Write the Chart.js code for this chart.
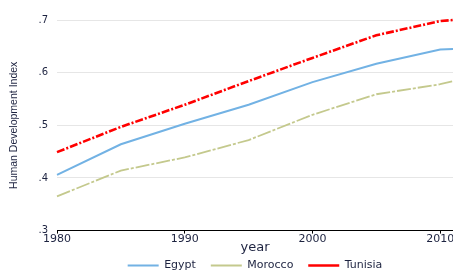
<!DOCTYPE html>
<html>
<head>
<meta charset="utf-8">
<script src="https://cdn.jsdelivr.net/npm/chart.js@4"></script>
<style>
  html, body { margin: 0; padding: 0; background: #fff; overflow: hidden; }
  #wrap { width: 453px; height: 273px; overflow: hidden; }
</style>
</head>
<body>
<div id="wrap"><canvas id="hdiChart" width="470" height="281"></canvas></div>
<script>
// values
const years = [1980, 1985, 1990, 1995, 2000, 2005, 2010, 2011];
const egypt = [0.406, 0.464, 0.503, 0.539, 0.582, 0.617, 0.644, 0.645];
const morocco = [0.365, 0.414, 0.439, 0.472, 0.520, 0.559, 0.578, 0.584];
const tunisia = [0.449, 0.497, 0.539, 0.584, 0.628, 0.671, 0.698, 0.700];
const xTicks = [1980, 1990, 2000, 2010];
const yTicks = [0.3, 0.4, 0.5, 0.6, 0.7];
const yTickLabels = ['.3', '.4', '.5', '.6', '.7'];

const pts = arr => years.map((y, i) => ({ x: y, y: arr[i] }));
const textColor = '#1d2340';

const ctx = document.getElementById('hdiChart').getContext('2d');

const hdiChart = new Chart(ctx, {
    type: 'line',
    data: {
        datasets: [
            { label: 'Egypt', data: pts(egypt), borderColor: '#72b2e4', backgroundColor: '#72b2e4', borderWidth: 2 },
            { label: 'Morocco', data: pts(morocco), borderColor: '#c4c98d', backgroundColor: '#c4c98d', borderWidth: 1.8, borderDash: [14, 2, 3, 2] },
            { label: 'Tunisia', data: pts(tunisia), borderColor: '#ff0000', backgroundColor: '#ff0000', borderWidth: 2.6, borderDash: [8, 2, 2, 2] }
        ]
    },
    options: {
        responsive: false,
        animation: false,
        clip: false,
        elements: { point: { radius: 0 }, line: { tension: 0 } },
        layout: { padding: { top: 20, right: 17, left: 0, bottom: 0 } },
        scales: {
            x: {
                type: 'linear',
                min: 1980,
                max: 2011,
                afterBuildTicks: s => { s.ticks = xTicks.map(v => ({ value: v })); },
                afterFit: s => { s.height = 25; },
                ticks: {
                    callback: v => String(v),
                    color: textColor,
                    font: { family: 'DejaVu Sans', size: 11 },
                    padding: -1,
                    maxRotation: 0
                },
                grid: { drawOnChartArea: false, drawTicks: true, tickLength: 3, color: '#000' },
                border: { display: true, color: '#000', width: 1 },
                title: {
                    display: true,
                    text: 'year',
                    color: textColor,
                    font: { family: 'DejaVu Sans', size: 13 },
                    padding: { top: 0, bottom: 0 }
                }
            },
            y: {
                min: 0.3,
                max: 0.7,
                afterBuildTicks: s => { s.ticks = yTicks.map(v => ({ value: v })); },
                afterFit: s => { s.width = 57; },
                ticks: {
                    callback: (v, i) => yTickLabels[i],
                    color: textColor,
                    font: { family: 'DejaVu Sans', size: 10 },
                    padding: 9
                },
                grid: { color: '#e6e6e6', lineWidth: 1, drawTicks: false },
                border: { display: false },
                title: {
                    display: true,
                    text: 'Human Development Index',
                    color: textColor,
                    font: { family: 'Liberation Sans', size: 10.5 },
                    padding: { top: 8, bottom: 0 }
                }
            }
        },
        plugins: {
            tooltip: { enabled: false },
            legend: {
                position: 'bottom',
                fullSize: false,
                labels: {
                    usePointStyle: true,
                    pointStyle: 'line',
                    pointStyleWidth: 31,
                    color: textColor,
                    font: { family: 'DejaVu Sans', size: 11 },
                    padding: 4.4,
                    // legend padding also sets the row height, so widen the gaps with spaces
                    generateLabels: chart => {
                        const items = Chart.defaults.plugins.legend.labels.generateLabels(chart);
                        items.forEach((it, i) => { if (i < items.length - 1) it.text += '   '; });
                        return items;
                    }
                }
            }
        }
    }
});
</script>
</body>
</html>
